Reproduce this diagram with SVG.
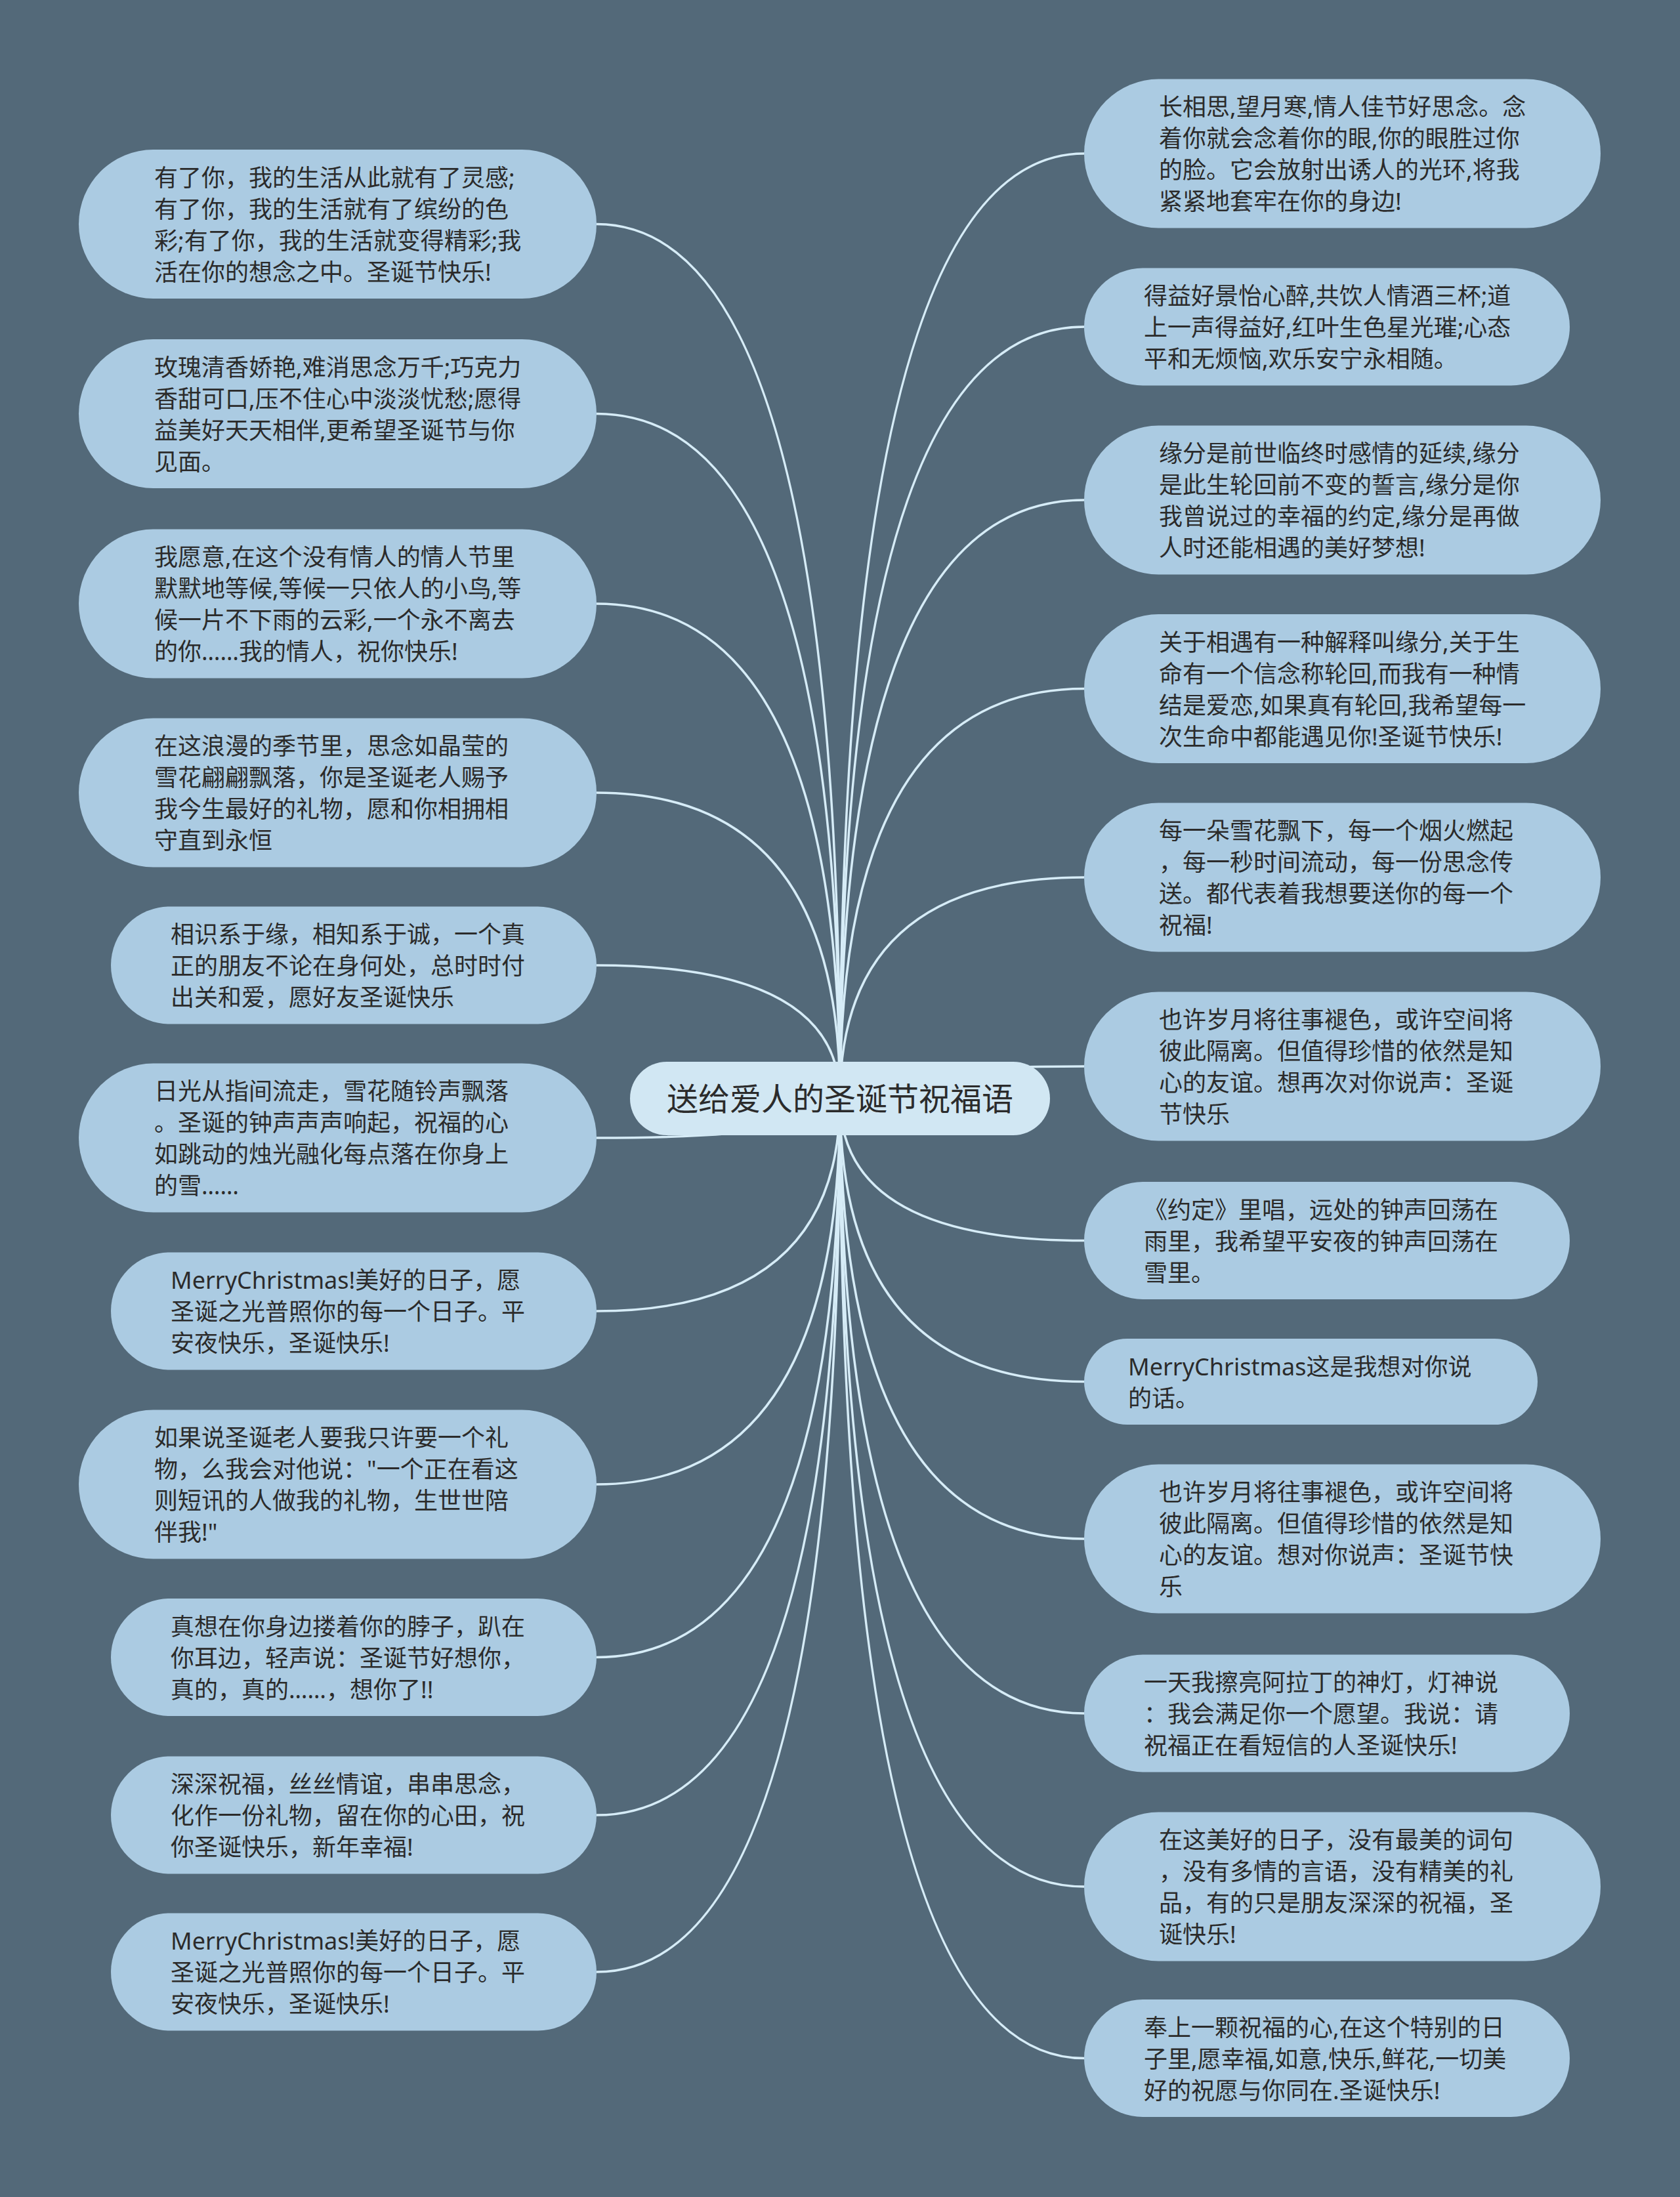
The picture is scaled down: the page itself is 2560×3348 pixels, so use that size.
<svg xmlns="http://www.w3.org/2000/svg" width="2560" height="3348" viewBox="0 0 2560 3348">
<style>
.bg{fill:#536979}
.nd{fill:#abcbe2}
.ct{fill:#d1e7f3}
.t{font-family:"Noto Sans","Noto Sans CJK SC",sans-serif;font-size:36px;fill:#2b2b2b}
.tc{font-family:"Noto Sans CJK SC","Noto Sans",sans-serif;font-size:48px;fill:#2b2b2b;text-anchor:middle}
.lk{fill:none;stroke:#d6ecf7;stroke-width:3.5}
</style>
<rect class="bg" x="0" y="0" width="2560" height="3348"/>
<g id="connectors">
<path class="lk" d="M1280 1674 Q1280 341.5 909 341.5"/>
<path class="lk" d="M1280 1674 Q1280 630.5 909 630.5"/>
<path class="lk" d="M1280 1674 Q1280 920 909 920"/>
<path class="lk" d="M1280 1674 Q1280 1208 909 1208"/>
<path class="lk" d="M1280 1674 Q1280 1471 909 1471"/>
<path class="lk" d="M1280 1674 Q1280 1734 909 1734"/>
<path class="lk" d="M1280 1674 Q1280 1998 909 1998"/>
<path class="lk" d="M1280 1674 Q1280 2262 909 2262"/>
<path class="lk" d="M1280 1674 Q1280 2525.5 909 2525.5"/>
<path class="lk" d="M1280 1674 Q1280 2766 909 2766"/>
<path class="lk" d="M1280 1674 Q1280 3005 909 3005"/>
<path class="lk" d="M1280 1674 Q1280 234 1652 234"/>
<path class="lk" d="M1280 1674 Q1280 498 1652 498"/>
<path class="lk" d="M1280 1674 Q1280 762 1652 762"/>
<path class="lk" d="M1280 1674 Q1280 1049.5 1652 1049.5"/>
<path class="lk" d="M1280 1674 Q1280 1337 1652 1337"/>
<path class="lk" d="M1280 1674 Q1280 1625 1652 1625"/>
<path class="lk" d="M1280 1674 Q1280 1890.5 1652 1890.5"/>
<path class="lk" d="M1280 1674 Q1280 2105.5 1652 2105.5"/>
<path class="lk" d="M1280 1674 Q1280 2345 1652 2345"/>
<path class="lk" d="M1280 1674 Q1280 2611 1652 2611"/>
<path class="lk" d="M1280 1674 Q1280 2875 1652 2875"/>
<path class="lk" d="M1280 1674 Q1280 3136.5 1652 3136.5"/>
</g>
<g id="center">
<rect class="ct" x="960" y="1618" width="640" height="112" rx="56"/>
<text class="tc" x="1280" y="1692">送给爱人的圣诞节祝福语</text>
</g>
<g id="L1">
<rect class="nd" x="120" y="228" width="789" height="227" rx="113.5"/>
<text class="t"><tspan x="235" y="283.5">有了你，我的生活从此就有了灵感;</tspan><tspan x="235" y="331.5">有了你，我的生活就有了缤纷的色</tspan><tspan x="235" y="379.5">彩;有了你，我的生活就变得精彩;我</tspan><tspan x="235" y="427.5">活在你的想念之中。圣诞节快乐!</tspan></text>
</g>
<g id="L2">
<rect class="nd" x="120" y="517" width="789" height="227" rx="113.5"/>
<text class="t"><tspan x="235" y="572.5">玫瑰清香娇艳,难消思念万千;巧克力</tspan><tspan x="235" y="620.5">香甜可口,压不住心中淡淡忧愁;愿得</tspan><tspan x="235" y="668.5">益美好天天相伴,更希望圣诞节与你</tspan><tspan x="235" y="716.5">见面。</tspan></text>
</g>
<g id="L3">
<rect class="nd" x="120" y="806.5" width="789" height="227" rx="113.5"/>
<text class="t"><tspan x="235" y="862">我愿意,在这个没有情人的情人节里</tspan><tspan x="235" y="910">默默地等候,等候一只依人的小鸟,等</tspan><tspan x="235" y="958">候一片不下雨的云彩,一个永不离去</tspan><tspan x="235" y="1006">的你……我的情人，祝你快乐!</tspan></text>
</g>
<g id="L4">
<rect class="nd" x="120" y="1094.5" width="789" height="227" rx="113.5"/>
<text class="t"><tspan x="235" y="1150">在这浪漫的季节里，思念如晶莹的</tspan><tspan x="235" y="1198">雪花翩翩飘落，你是圣诞老人赐予</tspan><tspan x="235" y="1246">我今生最好的礼物，愿和你相拥相</tspan><tspan x="235" y="1294">守直到永恒</tspan></text>
</g>
<g id="L5">
<rect class="nd" x="169" y="1381.5" width="740" height="179" rx="89.5"/>
<text class="t"><tspan x="260" y="1437">相识系于缘，相知系于诚，一个真</tspan><tspan x="260" y="1485">正的朋友不论在身何处，总时时付</tspan><tspan x="260" y="1533">出关和爱，愿好友圣诞快乐</tspan></text>
</g>
<g id="L6">
<rect class="nd" x="120" y="1620.5" width="789" height="227" rx="113.5"/>
<text class="t"><tspan x="235" y="1676">日光从指间流走，雪花随铃声飘落</tspan><tspan x="235" y="1724">。圣诞的钟声声声响起，祝福的心</tspan><tspan x="235" y="1772">如跳动的烛光融化每点落在你身上</tspan><tspan x="235" y="1820">的雪……</tspan></text>
</g>
<g id="L7">
<rect class="nd" x="169" y="1908.5" width="740" height="179" rx="89.5"/>
<text class="t"><tspan x="260" y="1964">MerryChristmas!美好的日子，愿</tspan><tspan x="260" y="2012">圣诞之光普照你的每一个日子。平</tspan><tspan x="260" y="2060">安夜快乐，圣诞快乐!</tspan></text>
</g>
<g id="L8">
<rect class="nd" x="120" y="2148.5" width="789" height="227" rx="113.5"/>
<text class="t"><tspan x="235" y="2204">如果说圣诞老人要我只许要一个礼</tspan><tspan x="235" y="2252">物，么我会对他说："一个正在看这</tspan><tspan x="235" y="2300">则短讯的人做我的礼物，生世世陪</tspan><tspan x="235" y="2348">伴我!"</tspan></text>
</g>
<g id="L9">
<rect class="nd" x="169" y="2436" width="740" height="179" rx="89.5"/>
<text class="t"><tspan x="260" y="2491.5">真想在你身边搂着你的脖子，趴在</tspan><tspan x="260" y="2539.5">你耳边，轻声说：圣诞节好想你，</tspan><tspan x="260" y="2587.5">真的，真的……，想你了!!</tspan></text>
</g>
<g id="L10">
<rect class="nd" x="169" y="2676.5" width="740" height="179" rx="89.5"/>
<text class="t"><tspan x="260" y="2732">深深祝福，丝丝情谊，串串思念，</tspan><tspan x="260" y="2780">化作一份礼物，留在你的心田，祝</tspan><tspan x="260" y="2828">你圣诞快乐，新年幸福!</tspan></text>
</g>
<g id="L11">
<rect class="nd" x="169" y="2915.5" width="740" height="179" rx="89.5"/>
<text class="t"><tspan x="260" y="2971">MerryChristmas!美好的日子，愿</tspan><tspan x="260" y="3019">圣诞之光普照你的每一个日子。平</tspan><tspan x="260" y="3067">安夜快乐，圣诞快乐!</tspan></text>
</g>
<g id="R1">
<rect class="nd" x="1652" y="120.5" width="787" height="227" rx="113.5"/>
<text class="t"><tspan x="1766" y="176">长相思,望月寒,情人佳节好思念。念</tspan><tspan x="1766" y="224">着你就会念着你的眼,你的眼胜过你</tspan><tspan x="1766" y="272">的脸。它会放射出诱人的光环,将我</tspan><tspan x="1766" y="320">紧紧地套牢在你的身边!</tspan></text>
</g>
<g id="R2">
<rect class="nd" x="1652" y="408.5" width="740" height="179" rx="89.5"/>
<text class="t"><tspan x="1743" y="464">得益好景怡心醉,共饮人情酒三杯;道</tspan><tspan x="1743" y="512">上一声得益好,红叶生色星光璀;心态</tspan><tspan x="1743" y="560">平和无烦恼,欢乐安宁永相随。</tspan></text>
</g>
<g id="R3">
<rect class="nd" x="1652" y="648.5" width="787" height="227" rx="113.5"/>
<text class="t"><tspan x="1766" y="704">缘分是前世临终时感情的延续,缘分</tspan><tspan x="1766" y="752">是此生轮回前不变的誓言,缘分是你</tspan><tspan x="1766" y="800">我曾说过的幸福的约定,缘分是再做</tspan><tspan x="1766" y="848">人时还能相遇的美好梦想!</tspan></text>
</g>
<g id="R4">
<rect class="nd" x="1652" y="936" width="787" height="227" rx="113.5"/>
<text class="t"><tspan x="1766" y="991.5">关于相遇有一种解释叫缘分,关于生</tspan><tspan x="1766" y="1039.5">命有一个信念称轮回,而我有一种情</tspan><tspan x="1766" y="1087.5">结是爱恋,如果真有轮回,我希望每一</tspan><tspan x="1766" y="1135.5">次生命中都能遇见你!圣诞节快乐!</tspan></text>
</g>
<g id="R5">
<rect class="nd" x="1652" y="1223.5" width="787" height="227" rx="113.5"/>
<text class="t"><tspan x="1766" y="1279">每一朵雪花飘下，每一个烟火燃起</tspan><tspan x="1766" y="1327">，每一秒时间流动，每一份思念传</tspan><tspan x="1766" y="1375">送。都代表着我想要送你的每一个</tspan><tspan x="1766" y="1423">祝福!</tspan></text>
</g>
<g id="R6">
<rect class="nd" x="1652" y="1511.5" width="787" height="227" rx="113.5"/>
<text class="t"><tspan x="1766" y="1567">也许岁月将往事褪色，或许空间将</tspan><tspan x="1766" y="1615">彼此隔离。但值得珍惜的依然是知</tspan><tspan x="1766" y="1663">心的友谊。想再次对你说声：圣诞</tspan><tspan x="1766" y="1711">节快乐</tspan></text>
</g>
<g id="R7">
<rect class="nd" x="1652" y="1801" width="740" height="179" rx="89.5"/>
<text class="t"><tspan x="1743" y="1856.5">《约定》里唱，远处的钟声回荡在</tspan><tspan x="1743" y="1904.5">雨里，我希望平安夜的钟声回荡在</tspan><tspan x="1743" y="1952.5">雪里。</tspan></text>
</g>
<g id="R8">
<rect class="nd" x="1652" y="2040" width="691" height="131" rx="65.5"/>
<text class="t"><tspan x="1719" y="2095.5">MerryChristmas这是我想对你说</tspan><tspan x="1719" y="2143.5">的话。</tspan></text>
</g>
<g id="R9">
<rect class="nd" x="1652" y="2231.5" width="787" height="227" rx="113.5"/>
<text class="t"><tspan x="1766" y="2287">也许岁月将往事褪色，或许空间将</tspan><tspan x="1766" y="2335">彼此隔离。但值得珍惜的依然是知</tspan><tspan x="1766" y="2383">心的友谊。想对你说声：圣诞节快</tspan><tspan x="1766" y="2431">乐</tspan></text>
</g>
<g id="R10">
<rect class="nd" x="1652" y="2521.5" width="740" height="179" rx="89.5"/>
<text class="t"><tspan x="1743" y="2577">一天我擦亮阿拉丁的神灯，灯神说</tspan><tspan x="1743" y="2625">：我会满足你一个愿望。我说：请</tspan><tspan x="1743" y="2673">祝福正在看短信的人圣诞快乐!</tspan></text>
</g>
<g id="R11">
<rect class="nd" x="1652" y="2761.5" width="787" height="227" rx="113.5"/>
<text class="t"><tspan x="1766" y="2817">在这美好的日子，没有最美的词句</tspan><tspan x="1766" y="2865">，没有多情的言语，没有精美的礼</tspan><tspan x="1766" y="2913">品，有的只是朋友深深的祝福，圣</tspan><tspan x="1766" y="2961">诞快乐!</tspan></text>
</g>
<g id="R12">
<rect class="nd" x="1652" y="3047" width="740" height="179" rx="89.5"/>
<text class="t"><tspan x="1743" y="3102.5">奉上一颗祝福的心,在这个特别的日</tspan><tspan x="1743" y="3150.5">子里,愿幸福,如意,快乐,鲜花,一切美</tspan><tspan x="1743" y="3198.5">好的祝愿与你同在.圣诞快乐!</tspan></text>
</g>
</svg>
